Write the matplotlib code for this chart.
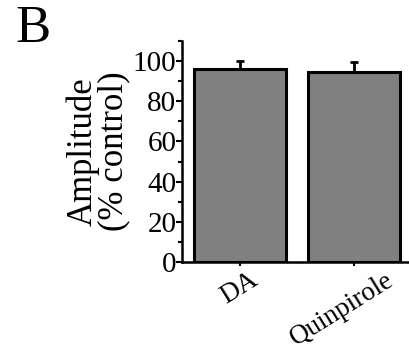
import numpy as np
import matplotlib.pyplot as plt
import matplotlib as mpl
from matplotlib.transforms import ScaledTranslation

mpl.rcParams["font.family"] = ["Liberation Serif", "DejaVu Serif"]

# Data
groups = ["DA", "Quinpirole"]
amplitude = [96.0, 94.7]
sem = [4.0, 4.6]

fig = plt.figure(figsize=(4.09, 3.5), dpi=100)
ax = fig.add_axes([182 / 409, 1 - 262 / 350, 1 - 182 / 409, (262 - 41) / 350])

x = np.arange(len(groups))
ax.bar(x, amplitude, width=0.81, color="#808080", edgecolor="black", linewidth=2.2, zorder=2)
ax.errorbar(x, amplitude, yerr=[np.zeros(len(sem)), sem], fmt="none", ecolor="black",
            elinewidth=2, capsize=3, capthick=2, zorder=1)

ax.set_ylim(0, 110)
ax.set_xlim(-0.51, 1.48)
ax.set_yticks(np.arange(0, 101, 20))
ax.yaxis.set_minor_locator(plt.MultipleLocator(10))
ax.set_xticks(x)
ax.set_xticklabels(groups, rotation=32, ha="center", fontsize=19.5)
ax.tick_params(axis="y", which="major", labelsize=21, width=1.5, length=4, pad=0)
ax.tick_params(axis="y", which="minor", width=1.5, length=3)
ax.tick_params(axis="x", which="major", width=1.5, length=3, pad=1)

# nudge labels slightly left, like the original
for lab, dx in zip(ax.get_xticklabels(), [-1, -12]):
    lab.set_transform(lab.get_transform() + ScaledTranslation(dx / 100, 0, fig.dpi_scale_trans))

ax.spines[["top", "right"]].set_visible(False)
ax.spines[["left", "bottom"]].set_linewidth(1.8)

ax.set_ylabel("Amplitude\n(% control)", fontsize=25, linespacing=0.9, labelpad=2)

fig.text(15 / 409, 1 - 42 / 350, "B", fontsize=38)

plt.savefig("out.png", dpi=100)
